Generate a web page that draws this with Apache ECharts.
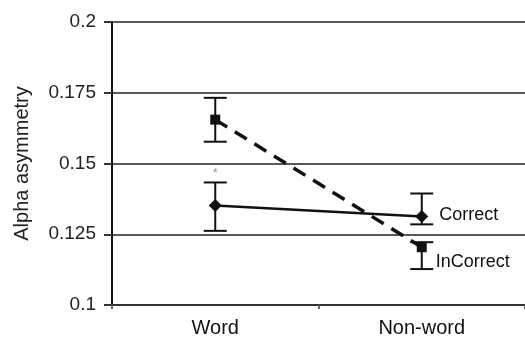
<!DOCTYPE html>
<html><head><meta charset="utf-8">
<script src="https://cdn.jsdelivr.net/npm/echarts@6/dist/echarts.min.js"></script>
<style>html,body{margin:0;padding:0;background:#fff}#c{width:525px;height:338px}</style>
</head><body><div id="c"></div>
<script>
const categories = ['Word', 'Non-word'];
const correct = [0.1352, 0.1313];
const correctLow = [0.1262, 0.1285];
const correctHigh = [0.1433, 0.1394];
const incorrect = [0.1655, 0.1204];
const incorrectLow = [0.1577, 0.1127];
const incorrectHigh = [0.1732, 0.1222];
const yTicks = [0.1, 0.125, 0.15, 0.175, 0.2];

const font = 'Liberation Sans, Arial, sans-serif';
function errData(lo, hi) { return categories.map((c, i) => [i, lo[i], hi[i]]); }
function errSeries(lo, hi) {
  return {
    type: 'custom', z: 3,
    data: errData(lo, hi),
    renderItem: function (params, api) {
      const x = api.value(0);
      const p1 = api.coord([x, api.value(1)]);
      const p2 = api.coord([x, api.value(2)]);
      const w = 11.5;
      const st = { stroke: '#111', lineWidth: 2 };
      return { type: 'group', children: [
        { type: 'line', shape: { x1: p1[0], y1: p1[1], x2: p2[0], y2: p2[1] }, style: st },
        { type: 'line', shape: { x1: p1[0] - w, y1: p1[1], x2: p1[0] + w, y2: p1[1] }, style: st },
        { type: 'line', shape: { x1: p2[0] - w, y1: p2[1], x2: p2[0] + w, y2: p2[1] }, style: st }
      ]};
    }
  };
}
const chart = echarts.init(document.getElementById('c'));
chart.setOption({
  animation: false,
  grid: { left: 112, right: -2, top: 22, bottom: 32 },
  xAxis: {
    type: 'category', data: categories, boundaryGap: true,
    axisLine: { lineStyle: { color: '#333', width: 2 } },
    axisTick: { show: true, length: 4, lineStyle: { color: '#666', width: 2 } },
    axisLabel: { fontFamily: font, fontSize: 20, color: '#111', margin: 13 }
  },
  yAxis: {
    type: 'value', min: 0.1, max: 0.2, interval: 0.025,
    name: 'Alpha asymmetry', nameLocation: 'middle', nameGap: 80,
    nameTextStyle: { fontFamily: font, fontSize: 20, color: '#222' },
    axisLine: { show: true, lineStyle: { color: '#111', width: 2 } },
    axisTick: { show: true, length: 8, lineStyle: { color: '#333', width: 2 } },
    axisLabel: { fontFamily: font, fontSize: 19, color: '#222', margin: 16,
      formatter: v => { const t = yTicks.find(y => Math.abs(y - v) < 1e-9); return t === undefined ? '' : String(t); } },
    splitLine: { lineStyle: { color: '#222', width: 1.5 } }
  },
  series: [
    { name: 'InCorrect', type: 'line', data: incorrect, z: 4,
      symbol: 'rect', symbolSize: 10, itemStyle: { color: '#111' },
      lineStyle: { color: '#111', width: 3.5, type: [14, 9] },
      label: { show: true, position: 'right', distance: 9, offset: [0, 15], fontFamily: font, fontSize: 18, color: '#111',
        formatter: p => p.dataIndex === 1 ? 'InCorrect' : '' } },
    { name: 'Correct', type: 'line', data: correct, z: 4,
      symbol: 'diamond', symbolSize: 13, itemStyle: { color: '#111' },
      lineStyle: { color: '#111', width: 2.5 },
      label: { show: true, position: 'right', distance: 11, offset: [0, -1], fontFamily: font, fontSize: 18, color: '#111',
        formatter: p => p.dataIndex === 1 ? 'Correct' : '' },
      markPoint: { symbol: 'circle', symbolSize: 0, data: [{ coord: ['Word', 0.1465] }],
        label: { show: true, formatter: '*', color: '#999', fontSize: 13, fontFamily: font } } },
    errSeries(incorrectLow, incorrectHigh),
    errSeries(correctLow, correctHigh)
  ]
});
</script></body></html>
